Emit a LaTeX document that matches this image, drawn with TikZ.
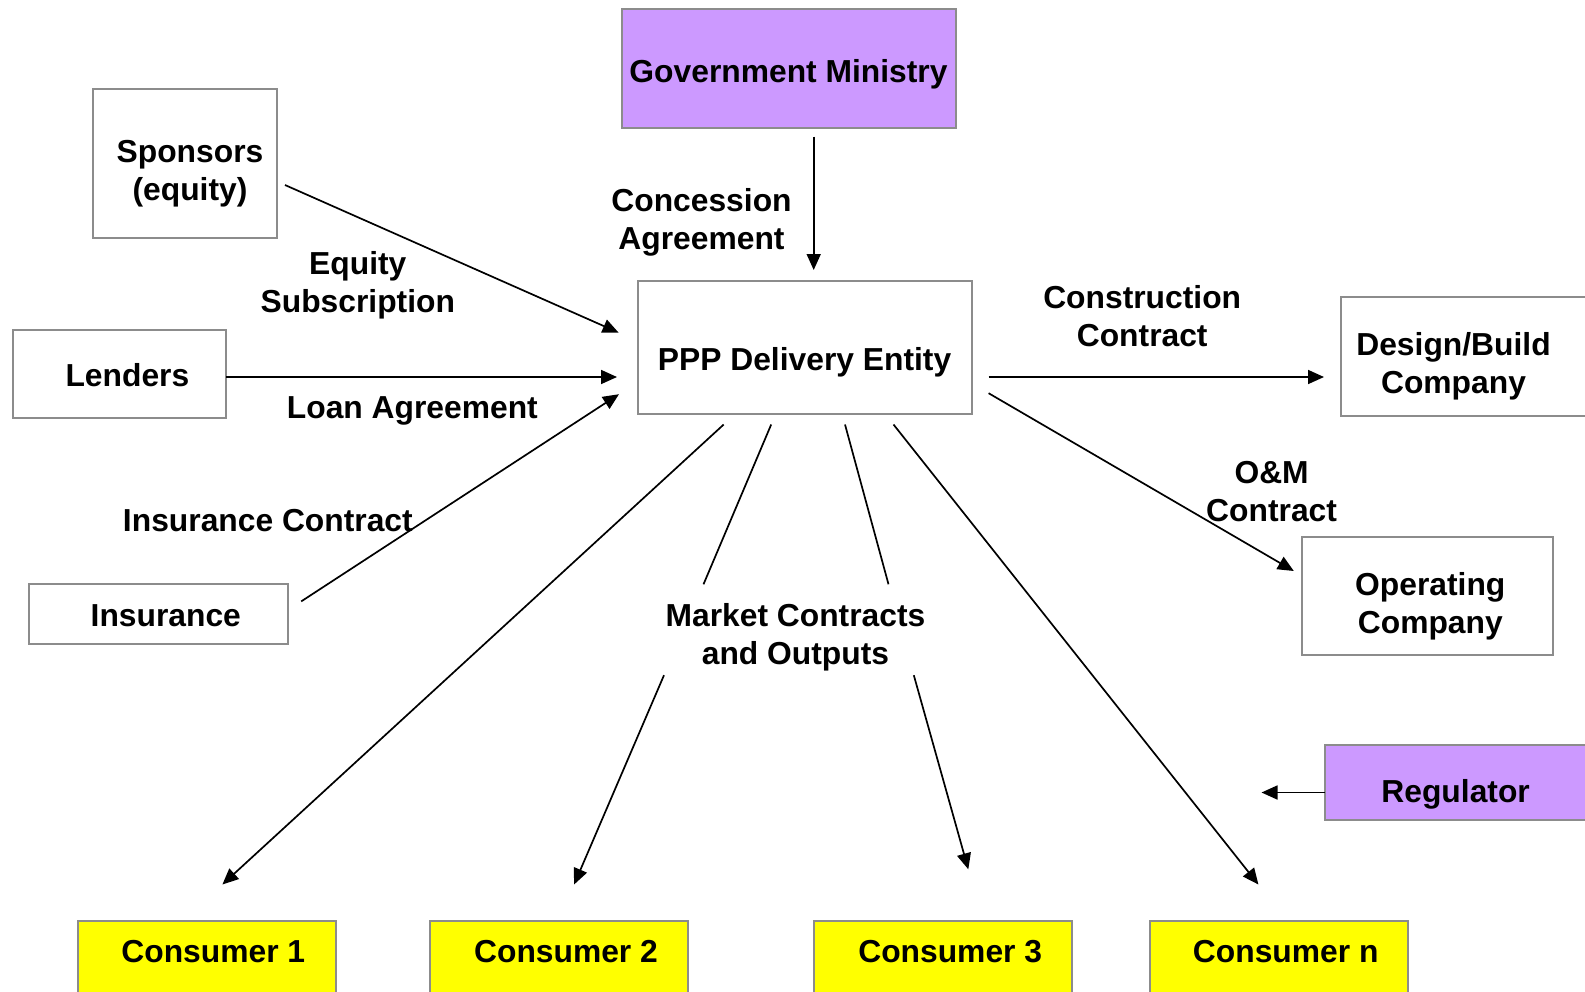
\documentclass[tikz,border=0pt]{standalone}
\usepackage{fontspec}
\setmainfont{Liberation Sans}
\usetikzlibrary{arrows.meta}
\definecolor{lilac}{HTML}{CC99FF}
\definecolor{yel}{HTML}{FFFF00}
\definecolor{edgegray}{HTML}{8C8C8C}
\begin{document}
\begin{tikzpicture}[x=0.5pt,y=-0.5pt,
  font=\fontsize{15.9}{19}\selectfont\bfseries,
  box/.style={draw=edgegray, line width=1pt, inner sep=0pt},
  lbl/.style={align=center, inner sep=0pt, yshift=-1.5pt},
  arr/.style={line width=0.85pt, -{Triangle[length=8pt,width=7pt]}},
  ln/.style={line width=0.85pt}]
\useasboundingbox (0,0) rectangle (1585,991);

% boxes
\node[box, fill=lilac, minimum width=167.3pt, minimum height=59.2pt] (gov) at (789,68.3) {};
\node[lbl] (govt) at (788.5,71.5) {Government Ministry};
\node[box, minimum width=92pt, minimum height=74.2pt] (spons) at (185,163.3) {};
\node[lbl] (sponst) at (190,171) {Sponsors\\(equity)};
\node[box, minimum width=106.6pt, minimum height=44pt] (lend) at (119.8,373.5) {};
\node[lbl] (lendt) at (127.4,372.5) {Lenders};
\node[box, minimum width=129.3pt, minimum height=29.8pt] (ins) at (158.7,614.2) {};
\node[lbl] (inst) at (165.8,612.5) {Insurance};
\node[box, minimum width=167.3pt, minimum height=66.7pt] (ppp) at (805.1,347.7) {};
\node[lbl] (pppt) at (804.6,359.5) {PPP Delivery Entity};
\node[box, minimum width=129.5pt, minimum height=59.5pt] (des) at (1470.6,356.5) {};
\node[lbl] (dest) at (1453.5,363) {Design/Build\\Company};
\node[box, minimum width=125.4pt, minimum height=59.2pt] (oper) at (1427.2,595.8) {};
\node[lbl] (opert) at (1430.3,603) {Operating\\Company};
\node[box, fill=lilac, minimum width=137.4pt, minimum height=37.5pt] (reg) at (1462.6,782.5) {};
\node[lbl] (regt) at (1455.6,791) {Regulator};

\foreach \n/\cx/\tx/\t in {c1/206.7/213.3/Consumer 1, c2/559/566/Consumer 2, c3/943.1/950.2/Consumer 3, cn/1279.2/1285.7/Consumer n}{
  \node[box, fill=yel, minimum width=129pt, minimum height=45pt] (\n) at (\cx,965.8) {};
  \node[lbl] (\n t) at (\tx,948.5) {\t};
}

% labels
\node[lbl] (conc) at (701.5,219) {Concession\\Agreement};
\node[lbl] (eqs) at (357.8,282.5) {Equity\\Subscription};
\node[lbl] (loan) at (412.4,408) {Loan Agreement};
\node[lbl] (insc) at (267.9,518) {Insurance Contract};
\node[lbl] (cons) at (1142.2,313.5) {Construction\\Contract};
\node[lbl] (om) at (1271.6,489) {O\&M\\Contract};
\node[lbl] (mkt) at (795.5,634.5) {Market Contracts\\and Outputs};

% connector end points
\coordinate (govS) at (813.7,136.5);
\coordinate (govE) at (813.7,270);
\coordinate (eqS) at (285,185);
\coordinate (eqE) at (618.6,332.6);
\coordinate (lnS) at (226.4,377);
\coordinate (lnE) at (617,377);
\coordinate (isS) at (301.2,601.4);
\coordinate (isE) at (619,394.2);
\coordinate (csS) at (988.6,377);
\coordinate (csE) at (1324,377);
\coordinate (omS) at (988.6,393.2);
\coordinate (omE) at (1293.8,571);
\coordinate (rgS) at (1325.2,792.5);
\coordinate (rgE) at (1261.5,792.5);
\coordinate (p1) at (723.7,424.5);
\coordinate (e1) at (222.4,884.5);
\coordinate (p2) at (771.2,424.5);
\coordinate (m2) at (703.5,584.3);
\coordinate (n2) at (664,675.2);
\coordinate (e2) at (574.1,884.5);
\coordinate (p3) at (845,424.5);
\coordinate (m3) at (888.5,584.3);
\coordinate (n3) at (913.8,675.2);
\coordinate (e3) at (968.3,869.3);
\coordinate (pn) at (893.5,424.5);
\coordinate (en) at (1258.4,884.5);

% connectors
\draw[arr] (govS) -- (govE);
\draw[arr] (eqS) -- (eqE);
\draw[arr] (lnS) -- (lnE);
\draw[arr] (isS) -- (isE);
\draw[arr] (csS) -- (csE);
\draw[arr] (omS) -- (omE);
\draw[arr] (rgS) -- (rgE);
\draw[arr] (p1) -- (e1);
\draw[ln] (p2) -- (m2);
\draw[arr] (n2) -- (e2);
\draw[ln] (p3) -- (m3);
\draw[arr] (n3) -- (e3);
\draw[arr] (pn) -- (en);
\end{tikzpicture}
\end{document}
